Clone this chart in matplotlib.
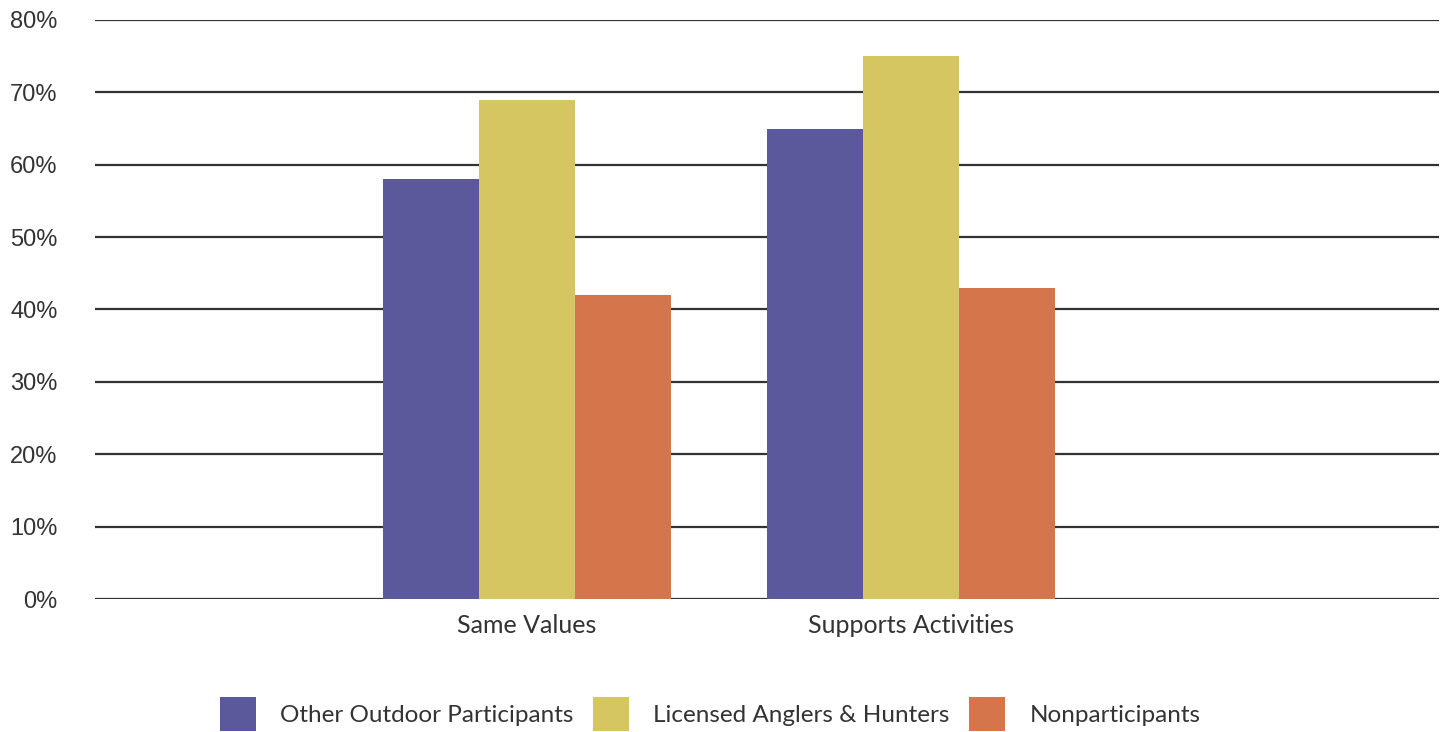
import matplotlib
matplotlib.use("Agg")
import matplotlib.pyplot as plt
import numpy as np
from matplotlib.ticker import FuncFormatter

categories = ["Same Values", "Supports Activities"]
series_names = ["Other Outdoor Participants", "Licensed Anglers & Hunters", "Nonparticipants"]
other_outdoor = [58, 65]
licensed = [69, 75]
nonparticipants = [42, 43]
yticks = [0, 10, 20, 30, 40, 50, 60, 70, 80]

colors = ["#5B589C", "#D6C662", "#D4754C"]
text_color = "#333333"

fig = plt.figure(figsize=(14.44, 7.32), dpi=100)
ax = fig.add_axes([95/1444, 1 - 599/732, (1439 - 95)/1444, (599 - 20)/732])

x = np.arange(len(categories))
w = 0.25
handles = []
for i, (vals, name) in enumerate(zip([other_outdoor, licensed, nonparticipants], series_names)):
    b = ax.bar(x + (i - 1) * w, vals, width=w, color=colors[i], label=name, zorder=3, linewidth=0)
    handles.append(b)

ax.set_ylim(0, 80)
ax.set_xlim(-1.125, 2.375)
ax.set_yticks(yticks)
ax.yaxis.set_major_formatter(FuncFormatter(lambda v, p: f"{int(v)}%"))
ax.grid(axis="y", color="#333333", linewidth=1.6, zorder=1)
ax.set_axisbelow(True)
for s in ax.spines.values():
    s.set_visible(False)
ax.tick_params(axis="y", length=0, pad=27, labelsize=17, labelcolor=text_color)
for lab in ax.get_yticklabels():
    lab.set_family(["Liberation Sans", "DejaVu Sans"])
ax.set_xticks(x)
ax.set_xticklabels(categories, family=["Lato", "DejaVu Sans"], fontsize=18, color=text_color)
ax.tick_params(axis="x", length=0, pad=11)

leg = ax.legend(handles=handles, loc="upper left", bbox_to_anchor=(220/1444, 1 - 697/732),
                bbox_transform=fig.transFigure, ncol=3, frameon=False,
                prop={"family": ["Lato", "DejaVu Sans"], "size": 17.5},
                handlelength=1.48, handleheight=1.75, handletextpad=1.0,
                columnspacing=0.8, borderpad=0, borderaxespad=0)
for t in leg.get_texts():
    t.set_color(text_color)

fig.savefig("out.png", dpi=100)
